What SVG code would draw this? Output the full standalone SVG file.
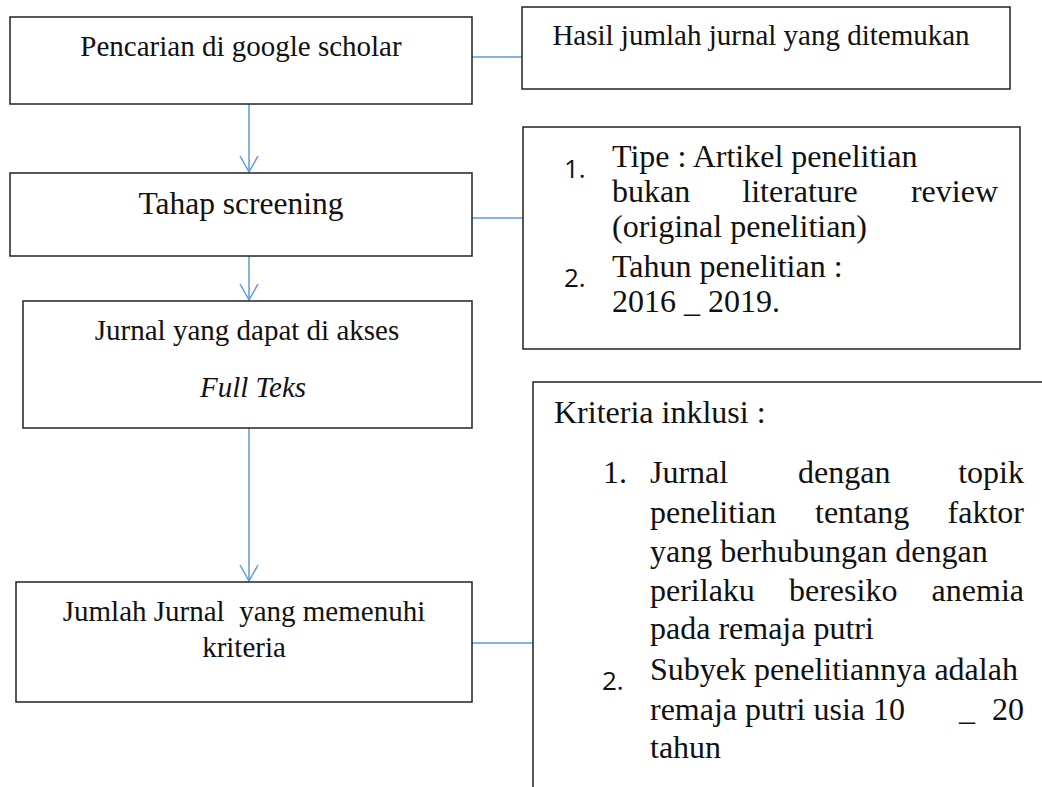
<svg xmlns="http://www.w3.org/2000/svg" width="1042" height="787" viewBox="0 0 1042 787">
<style>
.box{fill:#fff;stroke:#222;stroke-width:1.5}
.t{font-family:"Liberation Serif","Times New Roman",serif;fill:#111}
.s29{font-size:29px}
.s32{font-size:32px}
.num{font-family:"Open Sans","Liberation Sans",sans-serif;font-size:26px;fill:#111}
.c{text-anchor:middle}
.e{text-anchor:end}
.con{stroke:#5B9BD5;stroke-width:1.5;fill:none}
</style>
<defs>
<marker id="arr" markerUnits="userSpaceOnUse" markerWidth="20" markerHeight="20" refX="17" refY="10" orient="auto" viewBox="0 0 20 20">
<path d="M1,1 L17,10 L1,19" fill="none" stroke="#5B9BD5" stroke-width="1.5"/>
</marker>
</defs>
<rect width="1042" height="787" fill="#fff"/>
<g id="connectors">
<line class="con" x1="249" y1="104" x2="249" y2="172" marker-end="url(#arr)"/>
<line class="con" x1="249" y1="256" x2="249" y2="300" marker-end="url(#arr)"/>
<line class="con" x1="249" y1="428" x2="249" y2="581" marker-end="url(#arr)"/>
<line class="con" x1="472" y1="57" x2="522" y2="57"/>
<line class="con" x1="472" y1="218" x2="523" y2="218"/>
<line class="con" x1="472" y1="643" x2="533" y2="643"/>
</g>
<g id="n1">
<rect class="box" x="10" y="17" width="462" height="87"/>
<text class="t s29 c" x="241" y="56">Pencarian di google scholar</text>
</g>
<g id="n2">
<rect class="box" x="522" y="7" width="488" height="82"/>
<text class="t s29 c" x="761" y="45">Hasil jumlah jurnal yang ditemukan</text>
</g>
<g id="n3">
<rect class="box" x="10" y="173" width="462" height="83"/>
<text class="t c" style="font-size:31.5px" x="241" y="214">Tahap screening</text>
</g>
<g id="n4">
<rect class="box" x="523" y="127" width="497" height="222"/>
<text class="num" x="564" y="178">1.</text>
<text class="t s32" x="612" y="167">Tipe : Artikel penelitian</text>
<text class="t s32" x="612" y="202">bukan</text>
<text class="t s32" x="800" y="202" text-anchor="middle">literature</text>
<text class="t s32 e" x="998" y="202">review</text>
<text class="t s32" x="612" y="237">(original penelitian)</text>
<text class="num" x="564" y="287">2.</text>
<text class="t s32" x="612" y="277">Tahun penelitian :</text>
<text class="t s32" x="612" y="312">2016 _ 2019.</text>
</g>
<g id="n5">
<rect class="box" x="23" y="301" width="449" height="127"/>
<text class="t s29 c" x="247" y="340">Jurnal yang dapat di akses</text>
<text class="t s29" x="200" y="397" font-style="italic">Full Teks</text>
</g>
<g id="n6">
<rect class="box" x="16" y="582" width="456" height="120"/>
<text class="t s29 c" x="244" y="621" xml:space="preserve">Jumlah Jurnal  yang memenuhi</text>
<text class="t s29 c" x="244" y="657">kriteria</text>
</g>
<g id="n7">
<rect class="box" x="533" y="382" width="520" height="420"/>
<text class="t s32" x="554" y="423">Kriteria inklusi :</text>
<text class="t s32" x="603" y="483">1.</text>
<text class="t s32" x="650" y="483">Jurnal</text>
<text class="t s32" x="798" y="483">dengan</text>
<text class="t s32 e" x="1024" y="483">topik</text>
<text class="t s32" x="650" y="523">penelitian</text>
<text class="t s32" x="815" y="523">tentang</text>
<text class="t s32 e" x="1024" y="523">faktor</text>
<text class="t s32" x="650" y="562">yang berhubungan dengan</text>
<text class="t s32" x="650" y="601">perilaku</text>
<text class="t s32" x="789" y="601">beresiko</text>
<text class="t s32 e" x="1024" y="601">anemia</text>
<text class="t s32" x="650" y="639">pada remaja putri</text>
<text class="num" x="602" y="690">2.</text>
<text class="t s32" x="650" y="680">Subyek penelitiannya adalah</text>
<text class="t s32" x="650" y="720">remaja putri usia 10</text>
<text class="t s32" x="959" y="720">_</text>
<text class="t s32 e" x="1024" y="720">20</text>
<text class="t s32" x="650" y="758">tahun</text>
</g>
</svg>
